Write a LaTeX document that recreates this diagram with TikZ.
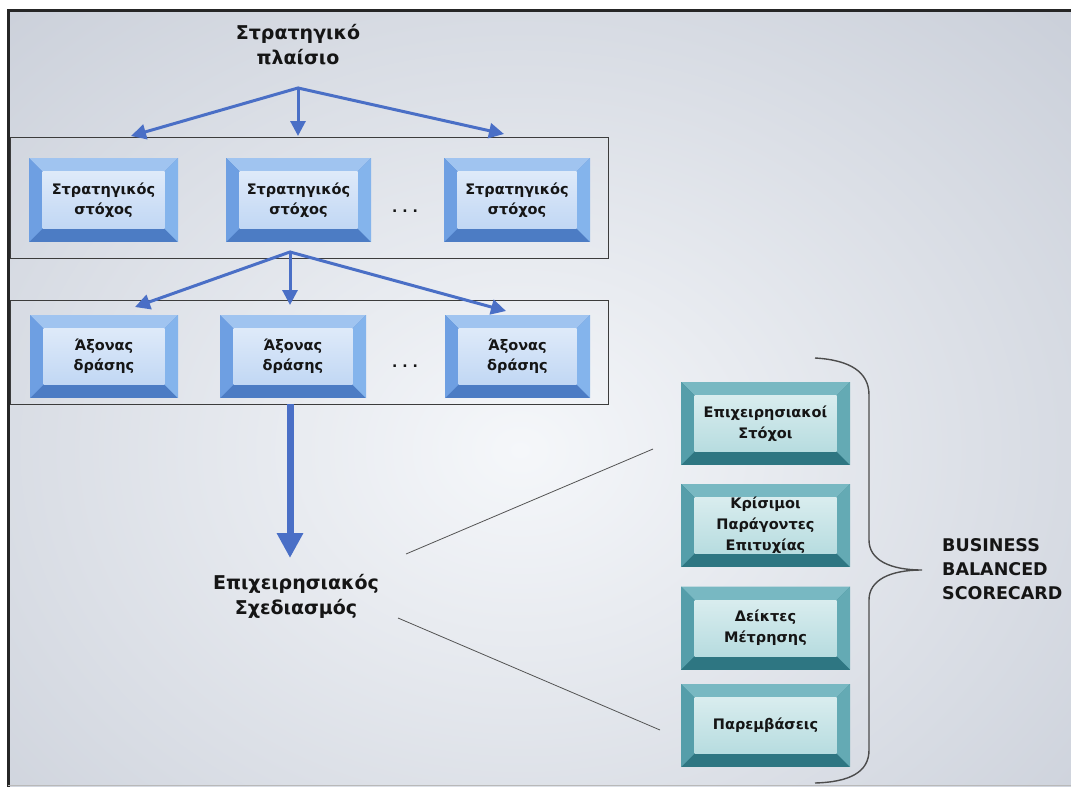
\documentclass[tikz,border=0pt]{standalone}
\usepackage{fontspec}
\setmainfont{DejaVu Sans}
\usetikzlibrary{arrows.meta}

\definecolor{arrowblue}{HTML}{4A6FC6}
\definecolor{bgouter}{HTML}{BEC4D0}
\definecolor{bginner}{HTML}{F5F7FA}
\definecolor{panelline}{HTML}{3C3C3C}
\definecolor{inktext}{HTML}{151515}
% blue bevels
\definecolor{btop}{HTML}{A0C4F0}
\definecolor{bleft}{HTML}{6E9FE2}
\definecolor{bright}{HTML}{84B4EC}
\definecolor{bbottom}{HTML}{4C7CC4}
\definecolor{bface}{HTML}{B6D0F2}
% teal bevels
\definecolor{ttop}{HTML}{78B8C2}
\definecolor{tleft}{HTML}{559EAA}
\definecolor{tright}{HTML}{64AAB4}
\definecolor{tbottom}{HTML}{2E7682}
\definecolor{tface}{HTML}{AAD6DA}

\tikzset{
    bevelled/.style n args={5}{
        fill=#4,inner sep=0,align=center,text=inktext,
        font=\bfseries\fontsize{14.5}{20}\selectfont,
        path picture={
            \coordinate (pp-sw) at (path picture bounding box.south west);
            \coordinate (pp-ne) at (path picture bounding box.north east);
            \fill[#1] (pp-ne -| pp-sw) -- (pp-ne)
                -- ([shift={(-13.5pt,-13.5pt)}]pp-ne) -- ([shift={(13.5pt,-13.5pt)}]pp-ne -| pp-sw) -- cycle;
            \fill[#2] (pp-ne -| pp-sw) -- ([shift={(13.5pt,-13.5pt)}]pp-ne -| pp-sw)
                -- ([shift={(13.5pt,13.5pt)}]pp-sw) -- (pp-sw) -- cycle;
            \fill[#3] (pp-ne) -- (pp-sw -| pp-ne)
                -- ([shift={(-13.5pt,13.5pt)}]pp-sw -| pp-ne) -- ([shift={(-13.5pt,-13.5pt)}]pp-ne) -- cycle;
            \shade[top color=#5!45!white,middle color=white,bottom color=#5!85!white]
                ([shift={(13.5pt,13.5pt)}]pp-sw) rectangle ([shift={(-13.5pt,-13.5pt)}]pp-ne);
        }
    },
    stratbox/.style = {bevelled={btop}{bleft}{bright}{bbottom}{bface},minimum width=149pt,minimum height=84pt},
    kpibox/.style = {bevelled={ttop}{tleft}{tright}{tbottom}{tface},minimum width=169pt,minimum height=83pt,
        font=\bfseries\fontsize{14.5}{21}\selectfont},
    heading/.style = {font=\bfseries\fontsize{19}{25}\selectfont,align=center,text=inktext,inner sep=0},
    scorelabel/.style = {font=\bfseries\fontsize{17.5}{24}\selectfont,align=left,text=inktext,inner sep=0},
    ellipsisdots/.style = {font=\bfseries\fontsize{14}{14}\selectfont,text=inktext,inner sep=0},
    panel/.style = {draw=panelline,line width=0.9pt,inner sep=0},
    flow/.style = {arrowblue,line width=3pt,line cap=round,-{Triangle[length=15pt,width=15pt]}},
    bigflow/.style = {arrowblue,line width=7pt,-{Triangle[length=25pt,width=25pt]}},
    zoomline/.style = {draw=gray!65!black,line width=0.8pt},
    frameline/.style = {draw=black!85,line width=3pt},
    brace/.style = {draw=black!70,line width=1.4pt}
}

\begin{document}
\begin{tikzpicture}[x=1pt,y=-1pt]
    \useasboundingbox (0,0) rectangle (1071,787);
    % Background
    \fill[white] (0,0) rectangle (1071,787);
    \begin{scope}
        \clip (8,10) rectangle (1071,787);
        \shade[inner color=bginner,outer color=bgouter] (-480,-350) rectangle (1520,1250);
    \end{scope}
    \draw[frameline] (8,787) -- (8,10) -- (1071,10);
    \draw[gray!55,line width=1.2pt] (8,785.5) -- (1071,785.5);
    % Strategic frame
    \node[heading] (context) at (298,45) {Στρατηγικό\\πλαίσιο};
    % Strategic goals
    \node[panel,minimum width=598pt,minimum height=121pt] (row1) at (309,197.5) {};
    \node[stratbox] (goal1) at (103.5,200) {Στρατηγικός\\στόχος};
    \node[stratbox,minimum width=145pt] (goal2) at (298.5,200) {Στρατηγικός\\στόχος};
    \node[stratbox,minimum width=146pt] (goal3) at (517,200) {Στρατηγικός\\στόχος};
    \node[ellipsisdots] (goaldots) at (405,211) {.\ .\ .};
    % Action axes
    \node[panel,minimum width=598pt,minimum height=104pt] (row2) at (309,352) {};
    \node[stratbox,minimum width=148pt,minimum height=83pt] (axis1) at (104,356.5) {Άξονας\\δράσης};
    \node[stratbox,minimum width=146pt,minimum height=83pt] (axis2) at (293,356.5) {Άξονας\\δράσης};
    \node[stratbox,minimum width=145pt,minimum height=83pt] (axis3) at (517.5,356.5) {Άξονας\\δράσης};
    \node[ellipsisdots] (axisdots) at (405,366) {.\ .\ .};
    % Forks
    \path (298,88) coordinate (fork1)
        (131,136) coordinate (goalin1)
        (298,136) coordinate (goalin2)
        (504,134) coordinate (goalin3);
    \path (290,252) coordinate (fork2)
        (135,307) coordinate (axisin1)
        (290,305) coordinate (axisin2)
        (506,311) coordinate (axisin3);
    \foreach \src/\dest in {fork1/goalin1,fork1/goalin2,fork1/goalin3,fork2/axisin1,fork2/axisin2,fork2/axisin3}
        \draw[flow] (\src) -- (\dest);
    % Operational planning
    \node[heading] (plan) at (296,596) {Επιχειρησιακός\\Σχεδιασμός};
    \coordinate (planin) at (290,558);
    \draw[bigflow] (row2.south -| planin) -- (planin);
    % Scorecard
    \node[kpibox] (kpi1) at (765.5,423.5) {Επιχειρησιακοί\\Στόχοι};
    \node[kpibox] (kpi2) at (765.5,525.5) {Κρίσιμοι\\Παράγοντες\\Επιτυχίας};
    \node[kpibox] (kpi3) at (765.5,628) {Δείκτες\\Μέτρησης};
    \node[kpibox] (kpi4) at (765.5,725.5) {Παρεμβάσεις};
    \path (406,554) coordinate (zoomtop)
        (653,449) coordinate (zoomtopend)
        (398,618) coordinate (zoombot)
        (660,730) coordinate (zoombotend);
    \foreach \src/\dest in {zoomtop/zoomtopend,zoombot/zoombotend}
        \draw[zoomline] (\src) -- (\dest);
    \draw[brace] (815,358) .. controls (850,360) and (869,372) .. (869,395)
        -- (869,540) .. controls (869,560) and (890,570) .. (922,570)
        .. controls (890,570) and (869,580) .. (869,600)
        -- (869,750) .. controls (869,772) and (850,782) .. (815,783);
    \node[scorelabel,anchor=west] (bsc) at (942,569) {BUSINESS\\BALANCED\\SCORECARD};
\end{tikzpicture}
\end{document}
